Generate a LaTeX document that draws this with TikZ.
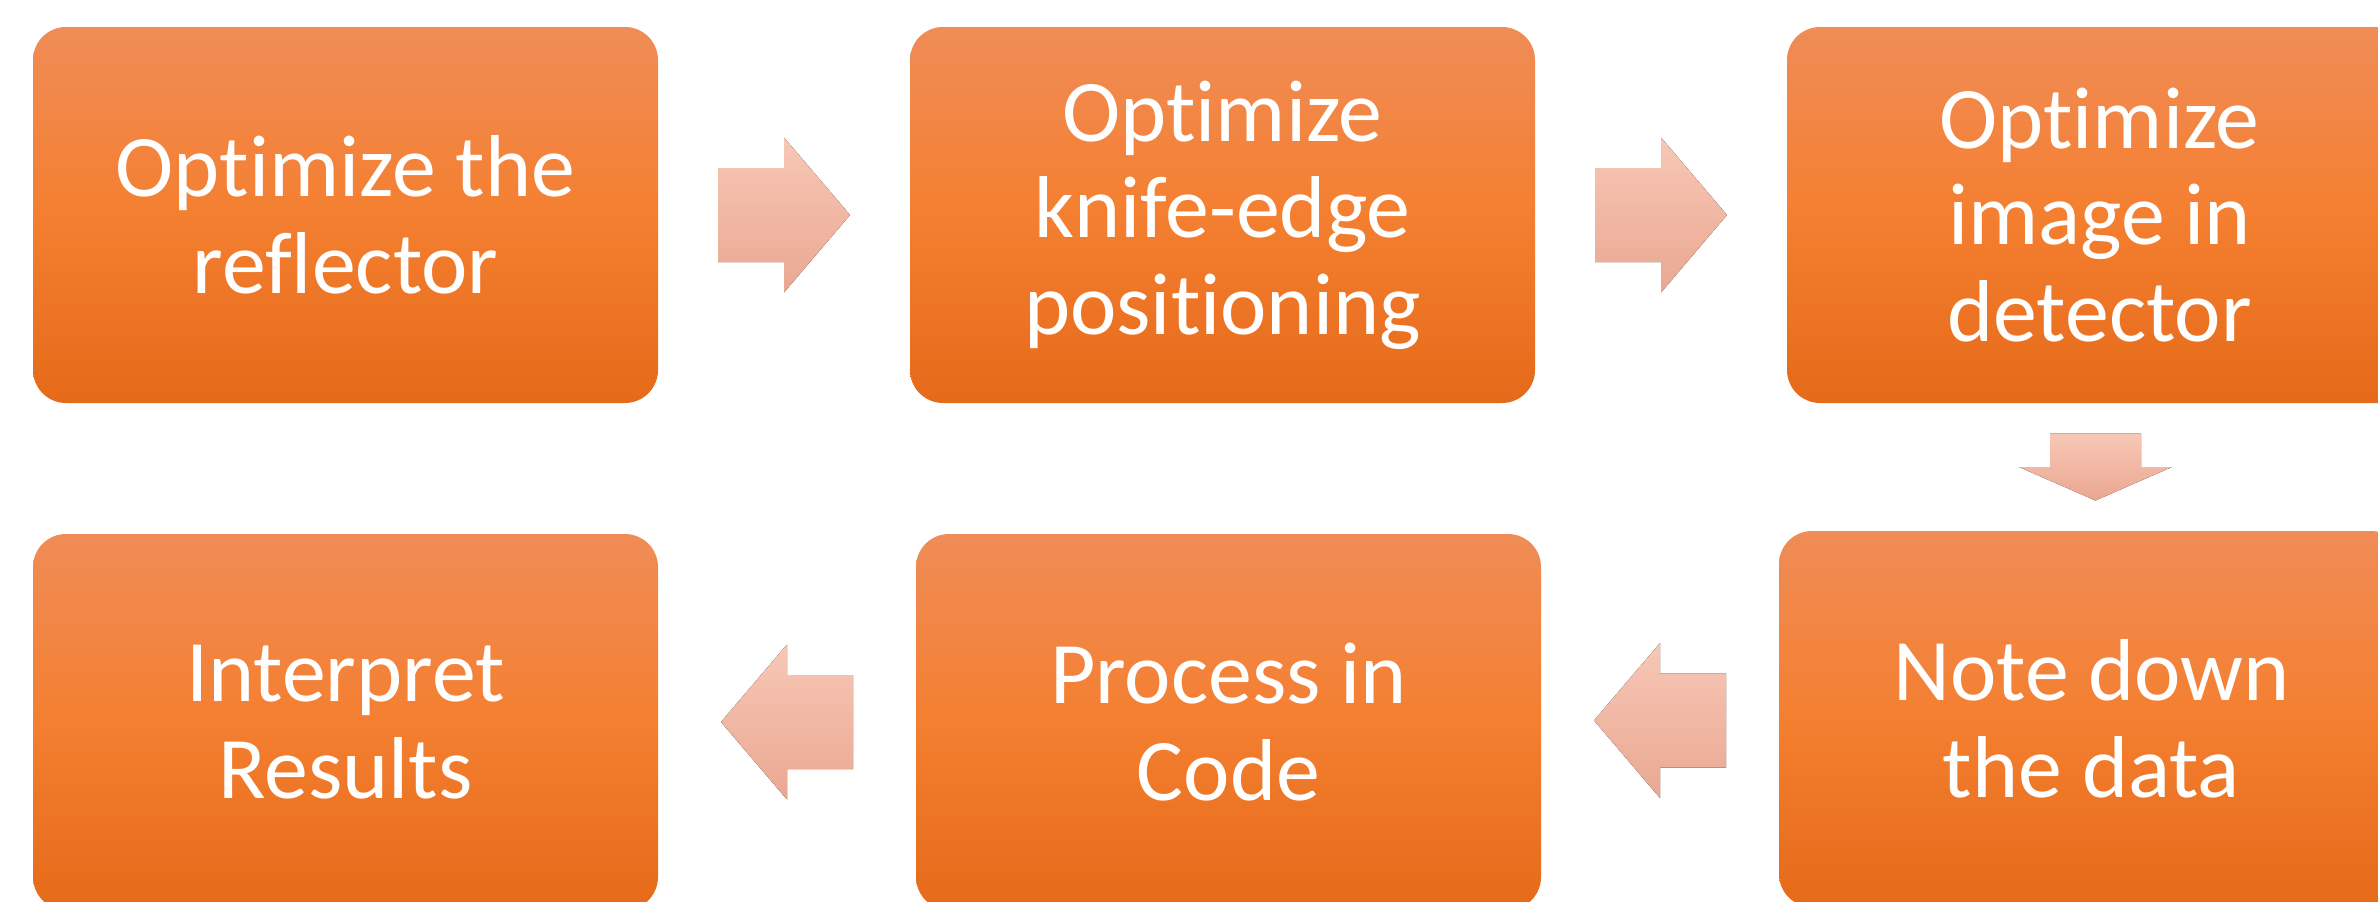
\documentclass[tikz,border=0pt]{standalone}
\usepackage{fontspec}
\setmainfont[Ligatures={NoCommon}]{Carlito}
\usetikzlibrary{positioning, calc}

\definecolor{boxtop}{HTML}{F08C57}
\definecolor{boxmid}{HTML}{F47F30}
\definecolor{boxbot}{HTML}{E56A19}
\definecolor{arrtop}{HTML}{F7C8B6}
\definecolor{arrbot}{HTML}{EAA791}

\tikzset{
    stepbox/.style={rounded corners=0.66cm, minimum width=12.5cm, minimum height=7.52cm,
        top color=boxtop, bottom color=boxbot, middle color=boxmid,
        text=white, align=center, inner sep=0pt, font=\fontsize{50}{55}\selectfont},
    arrowfill/.style={top color=arrtop, bottom color=arrbot, draw=none},
    pics/sidearrow/.style={code={
        \fill[arrowfill] (-1.32,-0.94) -- (0,-0.94) -- (0,-1.55) -- (1.32,0)
            -- (0,1.55) -- (0,0.94) -- (-1.32,0.94) -- cycle;
    }},
    pics/downarrow/.style={code={
        \fill[arrowfill] (-0.91,0.67) -- (0.91,0.67) -- (0.91,0) -- (1.53,0)
            -- (0,-0.67) -- (-1.53,0) -- (-0.91,0) -- cycle;
    }}
}

\begin{document}
\begin{tikzpicture}

    \useasboundingbox (0,0) rectangle (47.56,-18.04);
    \clip (0,0) rectangle (47.56,-18.04);

    % Top row
    \node[stepbox] (reflector) at (6.91,-4.30) {Optimize the\\reflector};
    \node[stepbox] (knife) at (24.45,-4.30) {Optimize\\knife-edge\\positioning};
    \node[stepbox] (image) at (41.99,-4.30) {Optimize\\image in\\detector};

    % Bottom row
    \node[stepbox] (note) at (41.83,-14.38) {Note down\\the data};
    \node[stepbox] (code) at (24.57,-14.44) {Process in\\Code};
    \node[stepbox] (results) at (6.91,-14.44) {Interpret\\Results};

    % Block arrows between steps
    \pic at ($(reflector.east)!0.5!(knife.west)$) {sidearrow};
    \pic at ($(knife.east)!0.5!(image.west)$) {sidearrow};
    \pic at ($(image.south)!0.5!(note.north)$) {downarrow};
    \pic[xscale=-1] at ($(note.west)!0.5!(code.east)$) {sidearrow};
    \pic[xscale=-1] at ($(code.west)!0.5!(results.east)$) {sidearrow};

\end{tikzpicture}
\end{document}
